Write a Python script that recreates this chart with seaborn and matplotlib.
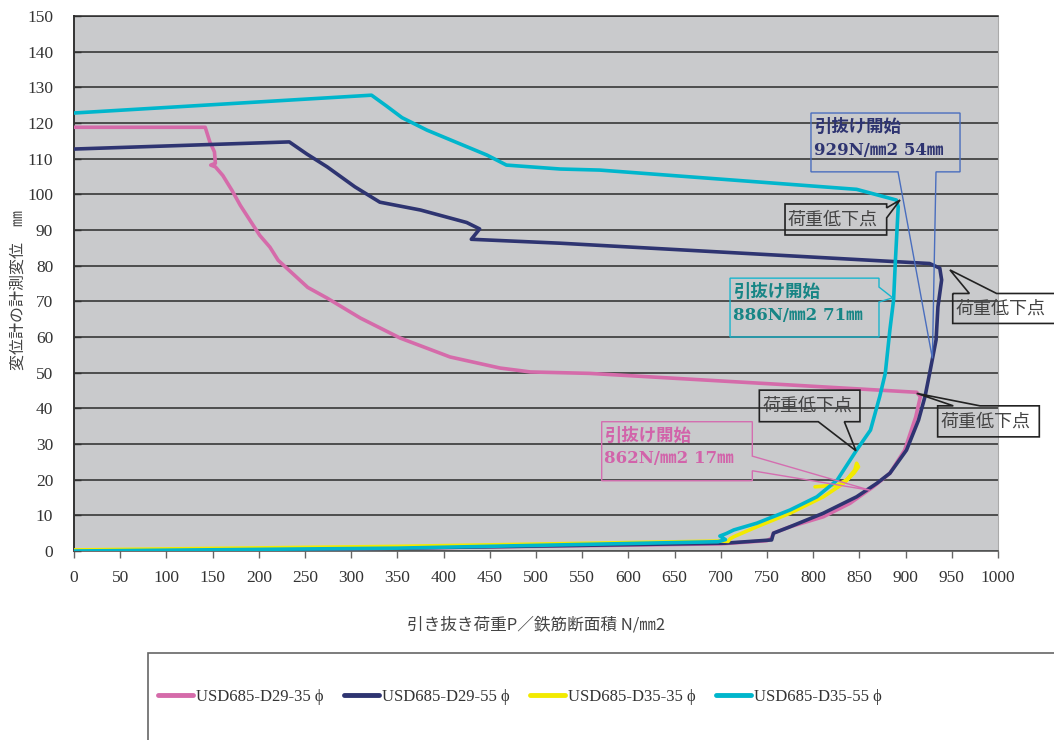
import matplotlib
matplotlib.use("Agg")
import matplotlib.pyplot as plt
from matplotlib.lines import Line2D
from matplotlib.patches import Polygon, Rectangle
import numpy as np
import pandas as pd
import seaborn as sns

# ---- data: load per bar area (N/mm2) vs. measured displacement (mm) ----
series_names = ["USD685-D29-35 ϕ", "USD685-D29-55 ϕ", "USD685-D35-35 ϕ", "USD685-D35-55 ϕ"]
series_colors = ["#D56BAA", "#2E3471", "#F2EA00", "#00B6CC"]

d29_35_load = [0, 350, 700, 750, 755, 757, 775, 811, 840, 865, 883, 899, 911, 916, 912,
               558, 494, 461, 407, 353, 310, 274, 253, 237, 221, 212, 201, 180, 171, 161,
               153, 148, 153, 152, 147, 142, 0]
d29_35_disp = [0, 0.8, 2.0, 2.9, 3.6, 5.0, 6.8, 9.6, 13.4, 18.0, 21.8, 28.3, 37.6, 43.3, 44.5,
               49.8, 50.2, 51.3, 54.4, 59.7, 65.3, 70.9, 73.9, 77.7, 81.5, 85.2, 88.5, 96.9, 101.1, 105.3,
               107.7, 108.2, 108.7, 111.9, 114.7, 118.8, 118.8]

d29_55_load = [0, 350, 705, 755, 757, 775, 811, 847, 869, 883, 901, 914, 921, 926, 933,
               935, 939, 937, 926, 526, 430, 439, 425, 375, 331, 304, 274, 252, 233, 0]
d29_55_disp = [0, 0.8, 2.2, 3.1, 5.0, 6.8, 10.6, 15.2, 19.0, 21.8, 28.3, 36.7, 43.3, 49.8, 59.2,
               68.5, 76.0, 79.3, 80.6, 86.3, 87.4, 90.3, 92.1, 95.6, 97.8, 102.1, 107.7, 111.3, 114.7, 112.7]

d35_35_load = [0, 350, 656, 700, 708, 710, 714, 739, 775, 811, 833, 844, 849, 847, 845, 836, 826, 802]
d35_35_disp = [0.3, 1.3, 2.6, 2.8, 2.7, 3.4, 4.0, 6.8, 10.6, 15.2, 19.0, 21.8, 23.6, 24.6, 22.7, 19.9, 18.5, 18.0]

d35_55_load = [0, 350, 697, 705, 699, 706, 714, 739, 775, 804, 826, 847, 862, 872, 878, 883,
               887, 889, 892, 890, 847, 569, 526, 468, 447, 382, 355, 338, 322, 0]
d35_55_disp = [0, 0.8, 2.6, 3.2, 4.2, 4.9, 5.9, 7.8, 11.5, 15.2, 19.9, 28.3, 33.9, 43.3, 49.8, 62.0,
               70.4, 81.6, 96.5, 98.4, 101.4, 106.8, 107.1, 108.2, 111.0, 118.0, 121.5, 124.8, 127.8, 122.8]

# pull-out start points stated in the callouts (load N/mm2, displacement mm)
pullout_load = [929, 886, 862]
pullout_disp = [54, 71, 17]

x_ticks = list(range(0, 1001, 50))
y_ticks = list(range(0, 151, 10))

x_label = "引き抜き荷重P／鉄筋断面積 N/㎜2"
y_label = "変位計の計測変位　㎜"
pullout_title = "引抜け開始"
drop_label = "荷重低下点"

# ---- long-format table for seaborn ----
frames = []
for name, xs, ys in zip(series_names,
                        [d29_35_load, d29_55_load, d35_35_load, d35_55_load],
                        [d29_35_disp, d29_55_disp, d35_35_disp, d35_55_disp]):
    frames.append(pd.DataFrame({"load": xs, "disp": ys, "series": name,
                                "step": np.arange(len(xs))}))
df = pd.concat(frames, ignore_index=True)

sns.set_theme(style="white")
plt.rcParams["font.family"] = ["Noto Sans CJK JP", "DejaVu Sans"]

W, H = 1054, 740
fig = plt.figure(figsize=(W / 100, H / 100), dpi=100)
ax = fig.add_axes([74 / W, 1 - 551 / H, 924 / W, 535 / H])
ax.set_facecolor("#C9CACC")

sns.lineplot(data=df, x="load", y="disp", hue="series", hue_order=series_names,
             palette=series_colors, sort=False, estimator=None, units="series",
             linewidth=2.6, legend=False, ax=ax, zorder=3)

ax.set_xlim(0, 1000)
ax.set_ylim(0, 150)
ax.set_xticks(x_ticks)
ax.set_yticks(y_ticks)
ax.set_xlabel("")
ax.set_ylabel("")
ax.yaxis.grid(True, color="#2B2B2B", linewidth=1.1)
ax.xaxis.grid(False)
ax.set_axisbelow(True)

ax.spines["left"].set_color("#333333")
ax.spines["left"].set_linewidth(1.4)
ax.spines["bottom"].set_color("#555555")
ax.spines["bottom"].set_linewidth(1.2)
ax.spines["top"].set_color("#2B2B2B")
ax.spines["top"].set_linewidth(1.1)
ax.spines["right"].set_color("#AAAAAA")
ax.spines["right"].set_linewidth(0.8)

ax.tick_params(axis="x", direction="out", length=5, width=1, color="#666666",
               pad=9, labelsize=12.5, labelcolor="#333333", bottom=True)
ax.tick_params(axis="y", direction="in", length=5, width=1, color="#333333",
               pad=15, labelsize=12.5, labelcolor="#333333", left=True)
plt.setp(ax.get_xticklabels() + ax.get_yticklabels(), family="Liberation Serif")

fig.text(536 / W, 1 - 625 / H, x_label, ha="center", va="center",
         fontsize=12, color="#444444")
fig.text(18 / W, 1 - 290 / H, y_label, ha="center", va="center",
         rotation=90, fontsize=11.5, color="#444444")


def callout(box, side, base, tip, edge, lw):
    """Rectangle callout with a wedge leaving from one side toward tip."""
    x0, x1, y0, y1 = box
    b0, b1 = base
    if side == "bottom":
        pts = [(x0, y1), (x1, y1), (x1, y0), (b1, y0), tip, (b0, y0), (x0, y0)]
    elif side == "right":
        pts = [(x0, y1), (x1, y1), (x1, b1), tip, (x1, b0), (x1, y0), (x0, y0)]
    else:  # top
        pts = [(x0, y1), (b0, y1), tip, (b1, y1), (x1, y1), (x1, y0), (x0, y0)]
    ax.add_patch(Polygon(pts, closed=True, facecolor="none", edgecolor=edge,
                         linewidth=lw, clip_on=False, zorder=5))


# pull-out start callouts (navy, cyan, pink)
pull_boxes = [
    dict(box=(797.6, 958.9, 106.3, 122.8), side="bottom", base=(891.8, 932.9),
         edge="#4A6EBE", text="#2E3471", tx=800.5),
    dict(box=(710.0, 871.2, 60.0, 76.5), side="right", base=(69.8, 74.0),
         edge="#1AB5CC", text="#178585", tx=713.0),
    dict(box=(571.1, 734.1, 19.7, 36.25), side="right", base=(22.5, 26.6),
         edge="#D46EB0", text="#D263AA", tx=574.0),
]
for spec, px, py in zip(pull_boxes, pullout_load, pullout_disp):
    callout(spec["box"], spec["side"], spec["base"], (px, py), spec["edge"], 1.0)
    top = spec["box"][3]
    ax.text(spec["tx"], top - 3.9, pullout_title, ha="left", va="center",
            fontsize=12.5, fontweight="bold", color=spec["text"],
            zorder=6, clip_on=False)
    ax.text(spec["tx"], top - 10.4, f"{px}N/㎜2 {py}㎜", ha="left", va="center",
            fontsize=12, fontweight="bold", color=spec["text"],
            family=["DejaVu Serif", "Noto Sans CJK JP"], zorder=6, clip_on=False)

# load-drop callouts
drop_specs = [
    dict(box=(769.5, 879.5, 88.6, 97.3), side="right", base=(93.4, 96.2), tip=(894, 98.4)),
    dict(box=(951.0, 1070.0, 63.8, 72.2), side="top", base=(969.0, 998.5), tip=(948, 78.8)),
    dict(box=(934.7, 1044.7, 32.0, 40.7), side="top", base=(951.6, 980.5), tip=(912, 44.2)),
    dict(box=(741.7, 850.6, 36.25, 45.1), side="bottom", base=(805.5, 833.7), tip=(846.3, 28.1)),
]
for spec in drop_specs:
    callout(spec["box"], spec["side"], spec["base"], spec["tip"], "#222222", 1.2)
    x0, x1, y0, y1 = spec["box"]
    ax.text(x0 + 3.0, (y0 + y1) / 2, drop_label, ha="left", va="center",
            fontsize=13, color="#444444", zorder=6, clip_on=False)

# legend inside a framed band under the plot
fig.add_artist(Rectangle((148 / W, -0.05), 1.0, 1 - 653 / H + 0.05,
                         transform=fig.transFigure, facecolor="white",
                         edgecolor="#666666", linewidth=1.2, clip_on=False))
handles = [Line2D([], [], color=c, linewidth=3.5) for c in series_colors]
fig.legend(handles, series_names, loc="center left",
           bbox_to_anchor=(158 / W, 1 - 697 / H), ncol=4, frameon=False,
           borderpad=0, borderaxespad=0, handlelength=2.1, handletextpad=0.2,
           columnspacing=1.2,
           prop={"family": ["Liberation Serif", "DejaVu Serif"], "size": 12},
           labelcolor="#333333")

fig.savefig("out.png", dpi=100, facecolor="white")
